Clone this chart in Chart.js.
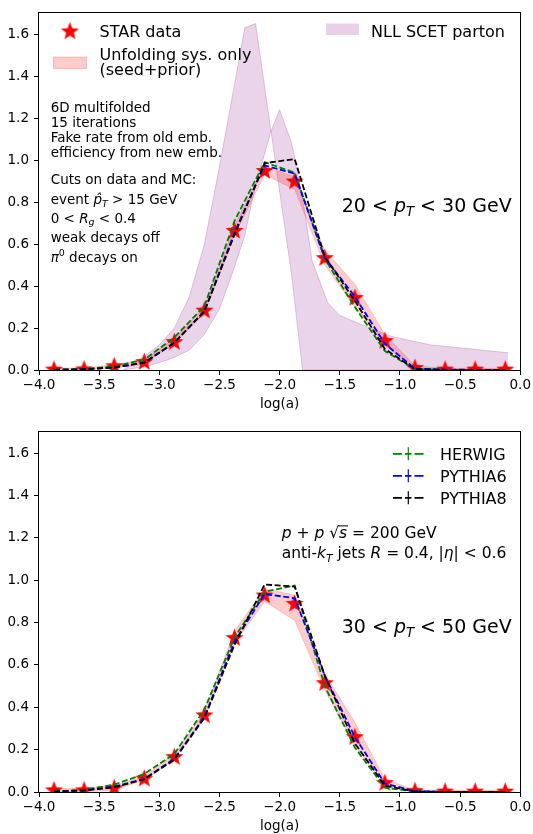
<!DOCTYPE html>
<html>
<head>
<meta charset="utf-8">
<script src="https://cdn.jsdelivr.net/npm/chart.js@4"></script>
<style>
body { margin: 0; background: #fff; }
canvas { display: block; }
</style>
</head>
<body>
<canvas id="topChart" width="533" height="417"></canvas>
<canvas id="bottomChart" width="533" height="417"></canvas>
<script>
// bin centres of log(a)
const bins = [-3.875, -3.625, -3.375, -3.125, -2.875, -2.625, -2.375, -2.125, -1.875, -1.625, -1.375, -1.125, -0.875, -0.625, -0.375, -0.125];
const xTicks = [-4, -3.5, -3, -2.5, -2, -1.5, -1, -0.5, 0];
const yTicks = [0, 0.2, 0.4, 0.6, 0.8, 1.0, 1.2, 1.4, 1.6];

// 20 < pT < 30 GeV
const starTop = [0.004, 0.005, 0.02, 0.04, 0.135, 0.285, 0.665, 0.95, 0.90, 0.535, 0.345, 0.14, 0.012, 0.004, 0.004, 0.004];
const sysLowTop = [0, 0, 0.01, 0.03, 0.125, 0.27, 0.64, 0.93, 0.86, 0.50, 0.30, 0.12, 0, 0, 0, 0];
const sysHighTop = [0.01, 0.01, 0.025, 0.05, 0.15, 0.30, 0.69, 0.97, 0.92, 0.57, 0.41, 0.17, 0.02, 0.008, 0.008, 0.008];
const herwigTop = [0.002, 0.005, 0.017, 0.05, 0.155, 0.305, 0.71, 0.99, 0.94, 0.53, 0.30, 0.09, 0.004, 0.001, 0, 0];
const pythia6Top = [0.001, 0.003, 0.012, 0.036, 0.13, 0.28, 0.655, 0.975, 0.935, 0.535, 0.35, 0.125, 0.006, 0.002, 0.001, 0.001];
const pythia8Top = [0.001, 0.003, 0.012, 0.034, 0.13, 0.28, 0.645, 0.985, 1.005, 0.54, 0.33, 0.10, 0.004, 0.001, 0, 0];

// NLL SCET parton band (two edges)
const nllX = [-3.3, -3.125, -3.0, -2.875, -2.75, -2.625, -2.5, -2.375, -2.29, -2.2, -2.07, -2.0, -1.9, -1.81, -1.73, -1.6, -1.5, -1.25, -1.07, -0.75, -0.4, -0.1];
const nllEdgeA = [0, 0.065, 0.12, 0.2, 0.35, 0.6, 0.97, 1.36, 1.63, 1.65, 1.13, 0.85, 0.45, 0, 0, 0, 0, 0, 0, 0, 0, 0];
const nllEdgeB = [0, 0.015, 0.035, 0.06, 0.095, 0.17, 0.29, 0.49, 0.64, 0.88, 1.14, 1.24, 1.08, 0.82, 0.52, 0.32, 0.26, 0.2, 0.16, 0.12, 0.1, 0.082];

// 30 < pT < 50 GeV
const starBot = [0.01, 0.01, 0.02, 0.065, 0.167, 0.364, 0.729, 0.93, 0.891, 0.516, 0.261, 0.044, 0.006, 0.004, 0.004, 0.004];
const sysLowBot = [0, 0, 0.01, 0.055, 0.155, 0.35, 0.70, 0.90, 0.81, 0.48, 0.22, 0.03, 0, 0, 0, 0];
const sysHighBot = [0.015, 0.02, 0.03, 0.075, 0.18, 0.38, 0.76, 0.96, 0.93, 0.56, 0.33, 0.06, 0.01, 0.008, 0.008, 0.008];
const herwigBot = [0.003, 0.01, 0.035, 0.085, 0.18, 0.39, 0.73, 0.945, 0.975, 0.50, 0.21, 0.02, 0.002, 0, 0, 0];
const pythia6Bot = [0.002, 0.008, 0.025, 0.062, 0.157, 0.355, 0.71, 0.935, 0.915, 0.55, 0.26, 0.04, 0.004, 0.001, 0.001, 0.001];
const pythia8Bot = [0.002, 0.007, 0.022, 0.06, 0.153, 0.35, 0.695, 0.98, 0.97, 0.55, 0.23, 0.03, 0.002, 0, 0, 0];

const FONT = '"DejaVu Sans"';

function makeStar(r) {
  const c = document.createElement('canvas');
  const s = Math.ceil(r * 2 + 2);
  c.width = s;
  c.height = s;
  const g = c.getContext('2d');
  g.fillStyle = '#ff0000';
  g.beginPath();
  for (let i = 0; i < 10; i++) {
    const rad = i % 2 ? r * 0.42 : r;
    const a = -Math.PI / 2 + i * Math.PI / 5;
    g.lineTo(s / 2 + rad * Math.cos(a), s / 2 + 0.6 + rad * Math.sin(a));
  }
  g.closePath();
  g.fill();
  return c;
}
const starImg = makeStar(9.5);

function pts(xs, ys) {
  return xs.map((x, i) => ({ x: x, y: ys[i] }));
}

function mcLine(label, color, ys, order) {
  return {
    label: label, data: pts(bins, ys), borderColor: color, borderWidth: 1.8,
    borderDash: [6, 2.6], pointRadius: 0, fill: false, order: order, clip: 0
  };
}

// draw text runs with italic / sub / sup parts (mathtext-like)
function runs(ctx, x, y, parts, size) {
  let cx = x;
  ctx.fillStyle = '#000';
  ctx.textBaseline = 'alphabetic';
  ctx.textAlign = 'left';
  for (const p of parts) {
    const fs = (p.sub || p.sup) ? size * 0.7 : size;
    ctx.font = (p.i ? 'italic ' : '') + fs + 'px ' + FONT;
    const dy = p.sub ? size * 0.22 : p.sup ? -size * 0.42 : 0;
    ctx.fillText(p.t, cx, y + dy);
    const w = ctx.measureText(p.t).width;
    if (p.over) {
      ctx.save();
      ctx.strokeStyle = '#000';
      ctx.lineWidth = 1;
      ctx.beginPath();
      ctx.moveTo(cx - 1, y - size * 0.8);
      ctx.lineTo(cx + w + 1, y - size * 0.8);
      ctx.stroke();
      ctx.restore();
    }
    cx += w;
  }
}

const frame = {
  id: 'frame',
  afterDatasetsDraw(chart) {
    const a = chart.chartArea;
    const c = chart.ctx;
    c.save();
    c.strokeStyle = '#000';
    c.lineWidth = 1;
    c.strokeRect(Math.round(a.left) - 0.5, Math.round(a.top) - 0.5, Math.round(a.right - a.left) + 1, Math.round(a.bottom - a.top) + 1);
    c.restore();
  }
};

const topText = {
  id: 'topText',
  afterDraw(chart) {
    const c = chart.ctx;
    c.save();
    // legend left
    c.drawImage(starImg, 70 - starImg.width / 2, 31 - starImg.height / 2);
    runs(c, 99.5, 36.5, [{ t: 'STAR data' }], 16);
    c.fillStyle = 'rgba(255,0,0,0.2)';
    c.fillRect(53.5, 57, 33, 11.5);
    c.strokeStyle = 'rgba(255,0,0,0.2)';
    c.strokeRect(53.5, 57, 33, 11.5);
    runs(c, 99.5, 59.5, [{ t: 'Unfolding sys. only' }], 16);
    runs(c, 99.5, 75, [{ t: '(seed+prior)' }], 16);
    // legend right
    c.fillStyle = 'rgba(128,0,128,0.18)';
    c.fillRect(326, 23.5, 33, 11.5);
    runs(c, 371, 36.5, [{ t: 'NLL SCET parton' }], 16);
    // info block
    const s = 13.5;
    runs(c, 50.7, 111.5, [{ t: '6D multifolded' }], s);
    runs(c, 50.7, 126.5, [{ t: '15 iterations' }], s);
    runs(c, 50.7, 141.5, [{ t: 'Fake rate from old emb.' }], s);
    runs(c, 50.7, 156.5, [{ t: 'efficiency from new emb.' }], s);
    runs(c, 50.7, 184, [{ t: 'Cuts on data and MC:' }], s);
    runs(c, 50.7, 204, [{ t: 'event ' }, { t: 'p\u0302', i: true }, { t: 'T', i: true, sub: true }, { t: ' > 15 GeV' }], s);
    runs(c, 50.7, 222.5, [{ t: '0 < ' }, { t: 'R', i: true }, { t: 'g', i: true, sub: true }, { t: ' < 0.4' }], s);
    runs(c, 50.7, 242, [{ t: 'weak decays off' }], s);
    runs(c, 50.7, 262, [{ t: '\u03c0', i: true }, { t: '0', sup: true }, { t: ' decays on' }], s);
    runs(c, 341.7, 211.5, [{ t: '20 < ' }, { t: 'p', i: true }, { t: 'T', i: true, sub: true }, { t: ' < 30 GeV' }], 19);
    c.restore();
  }
};

const bottomText = {
  id: 'bottomText',
  afterDraw(chart) {
    const c = chart.ctx;
    c.save();
    const rows = [['HERWIG', '#008000', 36.8], ['PYTHIA6', '#0000ff', 58.8], ['PYTHIA8', '#000000', 80.8]];
    for (const r of rows) {
      c.strokeStyle = r[1];
      c.lineWidth = 1.8;
      c.beginPath();
      c.moveTo(393, r[2]); c.lineTo(402, r[2]);
      c.moveTo(405, r[2]); c.lineTo(411.5, r[2]);
      c.moveTo(414.5, r[2]); c.lineTo(423.5, r[2]);
      c.stroke();
      c.lineWidth = 1.2;
      c.beginPath();
      c.moveTo(408.3, r[2] - 6.5); c.lineTo(408.3, r[2] + 6.5);
      c.stroke();
      runs(c, 440, r[2] + 5.8, [{ t: r[0] }], 16);
    }
    runs(c, 281.7, 121.3, [{ t: 'p', i: true }, { t: ' + ' }, { t: 'p', i: true }, { t: ' \u221a' }, { t: 's', i: true, over: true }, { t: ' = 200 GeV' }], 15.5);
    runs(c, 281.7, 141.3, [{ t: 'anti-' }, { t: 'k', i: true }, { t: 'T', i: true, sub: true }, { t: ' jets ' }, { t: 'R', i: true }, { t: ' = 0.4, |' }, { t: '\u03b7', i: true }, { t: '| < 0.6' }], 15.5);
    runs(c, 341.7, 216.3, [{ t: '30 < ' }, { t: 'p', i: true }, { t: 'T', i: true, sub: true }, { t: ' < 50 GeV' }], 19);
    c.restore();
  }
};

function scalesFor(xHeight, titlePad) {
  const tickFont = { family: FONT, size: 13.5 };
  return {
    x: {
      type: 'linear', min: -4, max: 0,
      afterFit: s => { s.height = xHeight; },
      afterBuildTicks: s => { s.ticks = xTicks.map(v => ({ value: v })); },
      ticks: { padding: 2, color: '#000', font: tickFont, maxRotation: 0, autoSkip: false,
        callback: v => v.toFixed(1).replace('-', '\u2212') },
      grid: { drawOnChartArea: false, tickLength: 5, color: '#000', tickColor: '#000' },
      border: { display: false },
      title: { display: true, text: 'log(a)', color: '#000', font: { family: FONT, size: 13.5, lineHeight: 1 },
        padding: { top: 0, bottom: titlePad } }
    },
    y: {
      min: 0, max: 1.7,
      afterFit: s => { s.width = 39; },
      afterBuildTicks: s => { s.ticks = yTicks.map(v => ({ value: v })); },
      ticks: { padding: 5, color: '#000', font: tickFont, callback: v => v.toFixed(1) },
      grid: { drawOnChartArea: false, tickLength: 5, color: '#000', tickColor: '#000' },
      border: { display: false }
    }
  };
}

function datasets(star, lo, hi, hw, p6, p8, withNll) {
  const ds = [
    mcLine('PYTHIA8', '#000000', p8, 1),
    mcLine('PYTHIA6', '#0000ff', p6, 2),
    mcLine('HERWIG', '#008000', hw, 3),
    { label: 'STAR data', data: pts(bins, star), showLine: false, pointStyle: starImg, pointRadius: 9, order: 4, clip: 0 },
    { data: pts(bins, lo), borderColor: 'rgba(255,0,0,0.15)', borderWidth: 1, pointRadius: 0, fill: false, order: 5, clip: 0 },
    { data: pts(bins, hi), borderColor: 'rgba(255,0,0,0.15)', borderWidth: 1, backgroundColor: 'rgba(255,0,0,0.2)', pointRadius: 0, fill: '-1', order: 5, clip: 0 }
  ];
  if (withNll) {
    ds.push({ data: pts(nllX, nllEdgeA), borderColor: 'rgba(128,0,128,0.2)', borderWidth: 1, pointRadius: 0, fill: false, order: 7, clip: 0 });
    ds.push({ data: pts(nllX, nllEdgeB), borderColor: 'rgba(128,0,128,0.2)', borderWidth: 1, backgroundColor: 'rgba(128,0,128,0.17)', pointRadius: 0, fill: '-1', order: 7, clip: 0 });
  }
  return ds;
}

function makeChart(id, ds, padTop, xHeight, titlePad, extra) {
  return new Chart(document.getElementById(id), {
    type: 'line',
    data: { datasets: ds },
    options: {
      responsive: false,
      animation: false,
      layout: { padding: { top: padTop, right: 11, left: 0, bottom: 0 } },
      scales: scalesFor(xHeight, titlePad),
      plugins: { legend: { display: false }, tooltip: { enabled: false } }
    },
    plugins: [frame, extra]
  });
}

makeChart('topChart', datasets(starTop, sysLowTop, sysHighTop, herwigTop, pythia6Top, pythia8Top, true), 9, 47, 5.5, topText);
makeChart('bottomChart', datasets(starBot, sysLowBot, sysHighBot, herwigBot, pythia6Bot, pythia8Bot, false), 15, 42, 0.5, bottomText);
</script>
</body>
</html>
